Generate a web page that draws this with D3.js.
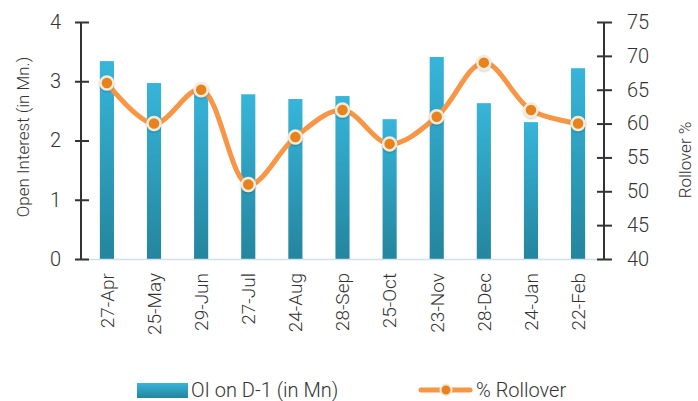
<!DOCTYPE html>
<html>
<head>
<meta charset="utf-8">
<script src="https://cdn.jsdelivr.net/npm/d3@7"></script>
<style>
  body { margin: 0; background: #fff; }
  text { font-family: Roboto, sans-serif; font-weight: 300; fill: #333; }
</style>
</head>
<body>
<script>
var months = ["27-Apr","25-May","29-Jun","27-Jul","24-Aug","28-Sep","25-Oct","23-Nov","28-Dec","24-Jan","22-Feb"];
var openInterest = [3.34, 2.97, 2.89, 2.78, 2.70, 2.75, 2.36, 3.41, 2.63, 2.31, 3.22];
var rollover = [66, 60, 65, 51, 58, 62, 57, 61, 69, 62, 60];
var leftTicks = [0, 1, 2, 3, 4];
var rightTicks = [40, 45, 50, 55, 60, 65, 70, 75];

var width = 698, height = 401;
var plotLeft = 81, plotRight = 604, plotTop = 22, plotBottom = 259;

var svg = d3.select("body").append("svg")
            .attr("width", width)
            .attr("height", height);

var defs = svg.append("defs");
var grad = defs.append("linearGradient")
               .attr("id", "barGrad")
               .attr("x1", 0).attr("y1", 0)
               .attr("x2", 0).attr("y2", 1);
grad.append("stop").attr("offset", "0%").attr("stop-color", "#37b5da");
grad.append("stop").attr("offset", "100%").attr("stop-color", "#24859d");

var shadow = defs.append("filter").attr("id", "shadow")
                 .attr("x", "-50%").attr("y", "-50%")
                 .attr("width", "200%").attr("height", "200%");
shadow.append("feDropShadow")
      .attr("dx", 0).attr("dy", 1)
      .attr("stdDeviation", 1)
      .attr("flood-color", "#000")
      .attr("flood-opacity", 0.25);

var x = d3.scaleBand().domain(months).range([plotLeft, plotRight]).paddingInner(0.7).paddingOuter(0.4);
var yL = d3.scaleLinear().domain([0, 4]).range([plotBottom, plotTop]);
var yR = d3.scaleLinear().domain([40, 75]).range([plotBottom, plotTop]);

// bars
svg.selectAll("rect.bar")
   .data(openInterest)
   .enter().append("rect")
   .attr("class", "bar")
   .attr("x", function(d, i) { return x(months[i]); })
   .attr("y", function(d) { return yL(d); })
   .attr("width", x.bandwidth())
   .attr("height", function(d) { return yL(0) - yL(d); })
   .attr("fill", "url(#barGrad)");

// baseline
svg.append("line")
   .attr("x1", plotLeft - 6).attr("x2", plotRight)
   .attr("y1", plotBottom + 0.5).attr("y2", plotBottom + 0.5)
   .attr("stroke", "#cfe0ee")
   .attr("stroke-width", 1.5);

// axes
var axL = svg.append("g").attr("transform", "translate(" + plotLeft + ",0)")
             .call(d3.axisLeft(yL).tickValues(leftTicks).tickFormat(d3.format("d"))
                     .tickSize(6).tickPadding(14));
axL.selectAll(".tick line").attr("x2", 8).attr("x1", -6);
var axR = svg.append("g").attr("transform", "translate(" + plotRight + ",0)")
             .call(d3.axisRight(yR).tickValues(rightTicks).tickFormat(d3.format("d"))
                     .tickSize(8).tickPadding(15));
axR.selectAll(".tick line").attr("x1", -7).attr("x2", 8);
[axL, axR].forEach(function(ax) {
  ax.select(".domain").attr("stroke", "#333").attr("stroke-width", 2)
    .attr("d", "M0," + plotTop + "V" + plotBottom);
  ax.selectAll(".tick line").attr("stroke", "#333").attr("stroke-width", 2);
  ax.selectAll(".tick text").attr("font-size", 20).attr("fill", "#333")
    .style("font-family", "Roboto, sans-serif").style("font-weight", 300);
});

// x labels
var xa = svg.append("g").attr("transform", "translate(0," + plotBottom + ")")
            .call(d3.axisBottom(x).tickSize(0));
xa.select(".domain").remove();
xa.selectAll(".tick text")
  .attr("transform", "rotate(-90)")
  .attr("text-anchor", "end")
  .attr("x", -14)
  .attr("y", 0)
  .attr("dy", "0.36em")
  .attr("font-size", 19)
  .style("font-family", "Roboto, sans-serif").style("font-weight", 300)
  .attr("fill", "#333");

// axis titles
svg.append("text")
   .attr("transform", "translate(29,137) rotate(-90)")
   .attr("text-anchor", "middle")
   .attr("font-size", 17)
   .attr("fill", "#444")
   .text("Open Interest (in Mn.)");
svg.append("text")
   .attr("transform", "translate(691,160) rotate(-90)")
   .attr("text-anchor", "middle")
   .attr("font-size", 17)
   .attr("fill", "#444")
   .text("Rollover %");

// line
var cx = function(i) { return x(months[i]) + x.bandwidth() / 2; };
var line = d3.line()
             .x(function(d, i) { return cx(i); })
             .y(function(d) { return yR(d); })
             .curve(d3.curveCatmullRom);
svg.append("path")
   .datum(rollover)
   .attr("d", line)
   .attr("fill", "none")
   .attr("stroke", "#f79646")
   .attr("stroke-width", 5)
   .attr("stroke-linecap", "round");

svg.selectAll("circle.pt")
   .data(rollover)
   .enter().append("circle")
   .attr("class", "pt")
   .attr("cx", function(d, i) { return cx(i); })
   .attr("cy", function(d) { return yR(d); })
   .attr("r", 6.5)
   .attr("fill", "#e8821f")
   .attr("stroke", "#f1ebd9")
   .attr("stroke-width", 2.5)
   .attr("filter", "url(#shadow)");

// legend
svg.append("rect")
   .attr("x", 137).attr("y", 383)
   .attr("width", 51).attr("height", 15)
   .attr("fill", "url(#barGrad)");
svg.append("text")
   .attr("x", 191).attr("y", 397)
   .attr("font-size", 20)
   .text("OI on D-1 (in Mn)");
svg.append("line")
   .attr("x1", 421).attr("x2", 470)
   .attr("y1", 390).attr("y2", 390)
   .attr("stroke", "#f79646")
   .attr("stroke-width", 5)
   .attr("stroke-linecap", "round");
svg.append("circle")
   .attr("cx", 446).attr("cy", 390).attr("r", 5.5)
   .attr("fill", "#e8821f")
   .attr("stroke", "#f1ebd9")
   .attr("stroke-width", 2);
svg.append("text")
   .attr("x", 476).attr("y", 397)
   .attr("font-size", 20)
   .text("% Rollover");
</script>
</body>
</html>
